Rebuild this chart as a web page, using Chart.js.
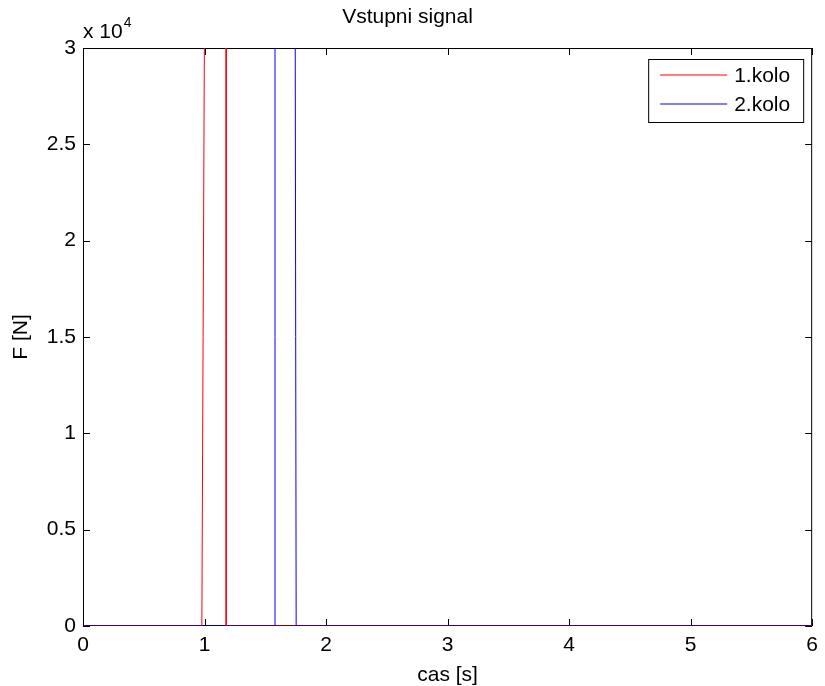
<!DOCTYPE html>
<html>
<head>
<meta charset="utf-8">
<script src="https://cdn.jsdelivr.net/npm/chart.js@4/dist/chart.umd.min.js"></script>
<style>
html, body { margin: 0; padding: 0; background: #fff; }
#wrap { width: 825px; height: 686px; }
</style>
</head>
<body>
<div id="wrap"><canvas id="signal-chart" width="825" height="686"></canvas></div>
<script>
// data (force above 3e4 is clipped by the axes)
var timeKolo1 = [0, 0.978, 1.0, 1.178, 1.178, 6];
var forceKolo1 = [0, 0, 32000, 32000, 0, 0];
var timeKolo2 = [0, 1.58, 1.58, 1.746, 1.754, 6];
var forceKolo2 = [0, 0, 32000, 32000, 0, 0];
var seriesLabels = ['1.kolo', '2.kolo'];
var xTicks = [0, 1, 2, 3, 4, 5, 6];
var yTicks = [0, 5000, 10000, 15000, 20000, 25000, 30000];

var FONT = 'Liberation Sans, Arial, Helvetica, sans-serif';
var seriesColors = ['#ff0000', '#0000ff'];

function toPoints(xs, ys) {
    var pts = [];
    for (var i = 0; i < xs.length; i++) {
        pts.push({ x: xs[i], y: ys[i] });
    }
    return pts;
}

// matlab style box, inward ticks, exponent label and legend
var matlabAxes = {
    id: 'matlabAxes',
    beforeDatasetsDraw: function (chart) {
        var ctx = chart.ctx;
        var a = chart.chartArea;
        var xs = chart.scales.x, ys = chart.scales.y;
        var tl = 7;
        ctx.save();
        ctx.strokeStyle = '#000';
        ctx.lineWidth = 1;
        ctx.beginPath();
        ctx.rect(a.left + 0.5, a.top + 0.5, a.right - a.left - 1, a.bottom - a.top - 1);
        xTicks.forEach(function (v) {
            var px = Math.round(xs.getPixelForValue(v)) + 0.5;
            ctx.moveTo(px, a.bottom);
            ctx.lineTo(px, a.bottom - tl);
            ctx.moveTo(px, a.top);
            ctx.lineTo(px, a.top + tl);
        });
        yTicks.forEach(function (v) {
            var py = Math.round(ys.getPixelForValue(v)) + 0.5;
            ctx.moveTo(a.left, py);
            ctx.lineTo(a.left + tl, py);
            ctx.moveTo(a.right, py);
            ctx.lineTo(a.right - tl, py);
        });
        ctx.stroke();
        // x 10^4
        ctx.fillStyle = '#000';
        ctx.textBaseline = 'alphabetic';
        ctx.textAlign = 'left';
        ctx.font = '21px ' + FONT;
        ctx.fillText('x 10', a.left, a.top - 10);
        var w = ctx.measureText('x 10').width;
        ctx.font = '14px ' + FONT;
        ctx.fillText('4', a.left + w + 1, a.top - 21);
        ctx.restore();
    },
    afterDatasetsDraw: function (chart) {
        var ctx = chart.ctx;
        var a = chart.chartArea;
        var bx = a.right - 164, by = a.top + 11, bw = 155, bh = 63;
        ctx.save();
        ctx.fillStyle = '#fff';
        ctx.fillRect(bx, by, bw, bh);
        ctx.strokeStyle = '#000';
        ctx.lineWidth = 1;
        ctx.strokeRect(bx + 0.5, by + 0.5, bw, bh);
        ctx.font = '21px ' + FONT;
        ctx.textBaseline = 'middle';
        ctx.textAlign = 'left';
        chart.data.datasets.forEach(function (ds, i) {
            var ly = by + 16 + i * 29;
            ctx.strokeStyle = seriesColors[i];
            ctx.lineWidth = 1.2;
            ctx.beginPath();
            ctx.moveTo(bx + 12, ly);
            ctx.lineTo(bx + 79, ly);
            ctx.stroke();
            ctx.fillStyle = '#000';
            ctx.fillText(ds.label, bx + 86, ly + 1);
        });
        ctx.restore();
    }
};

var chartCanvas = document.getElementById('signal-chart');
var signalChart = new Chart(chartCanvas, {
    type: 'line',
    data: {
        datasets: [{
            label: seriesLabels[0],
            data: toPoints(timeKolo1, forceKolo1),
            borderColor: seriesColors[0],
            borderWidth: 1,
            pointRadius: 0,
            tension: 0,
            fill: false,
            order: 1
        }, {
            label: seriesLabels[1],
            data: toPoints(timeKolo2, forceKolo2),
            borderColor: seriesColors[1],
            borderWidth: 1,
            pointRadius: 0,
            tension: 0,
            fill: false,
            order: 0
        }]
    },
    options: {
        responsive: false,
        animation: false,
        devicePixelRatio: 1,
        layout: { padding: { left: 0, right: 10, top: 0, bottom: 0 } },
        plugins: {
            legend: { display: false },
            tooltip: { enabled: false },
            title: {
                display: true,
                text: 'Vstupni signal',
                color: '#000',
                font: { family: FONT, size: 21, weight: 'normal', lineHeight: '24px' },
                padding: { top: 5, bottom: 19 }
            }
        },
        scales: {
            x: {
                type: 'linear',
                min: 0,
                max: 6,
                grid: { display: false, drawTicks: false },
                border: { display: false },
                afterFit: function (s) { s.height = 60; },
                afterBuildTicks: function (s) {
                    s.ticks = xTicks.map(function (v) { return { value: v }; });
                },
                ticks: {
                    color: '#000',
                    padding: 7,
                    maxRotation: 0,
                    font: { family: FONT, size: 21 }
                },
                title: {
                    display: true,
                    text: 'cas [s]',
                    color: '#000',
                    font: { family: FONT, size: 21, lineHeight: 1 },
                    padding: { top: 0, bottom: 0 }
                }
            },
            y: {
                type: 'linear',
                min: 0,
                max: 30000,
                grid: { display: false, drawTicks: false },
                border: { display: false },
                afterFit: function (s) { s.width = 83; },
                afterBuildTicks: function (s) {
                    s.ticks = yTicks.map(function (v) { return { value: v }; });
                },
                ticks: {
                    color: '#000',
                    padding: 7,
                    font: { family: FONT, size: 21 },
                    callback: function (v) { return String(v / 10000); }
                },
                title: {
                    display: true,
                    text: 'F [N]',
                    color: '#000',
                    font: { family: FONT, size: 21 },
                    padding: { top: 9, bottom: 0 }
                }
            }
        }
    },
    plugins: [matlabAxes]
});
</script>
</body>
</html>
